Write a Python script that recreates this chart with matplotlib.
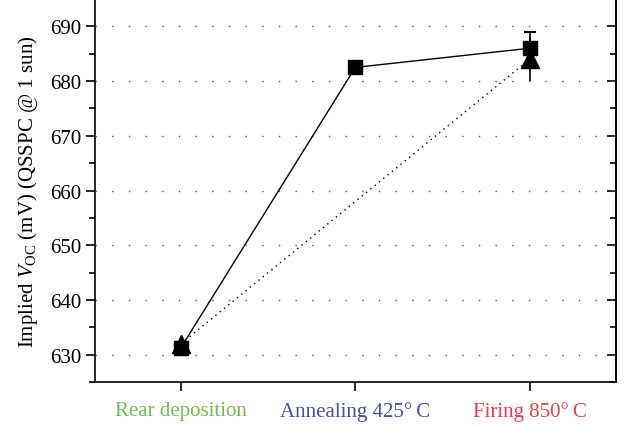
import matplotlib.pyplot as plt
import numpy as np

plt.rcParams['font.family'] = ['Liberation Serif', 'DejaVu Serif']
plt.rcParams['mathtext.fontset'] = 'custom'
plt.rcParams['mathtext.rm'] = 'Liberation Serif'
plt.rcParams['mathtext.it'] = 'Liberation Serif:italic'

stages = ['Rear deposition', 'Annealing 425°\u2009C', 'Firing 850°\u2009C']
stage_colors = ['#6cbf4a', '#3b55a5', '#ee3b46']

sq_x = [0, 1, 2]
sq_y = [631.3, 682.5, 686.0]
sq_err = [0.6, 1.0, 3.0]

tri_x = [0, 2]
tri_y = [632.0, 684.0]
tri_err = [0.8, 4.0]

fig = plt.figure(figsize=(6.28, 4.27), dpi=100)
ax = fig.add_axes([0.1513, 0.103, 0.829, 0.897])

ax.errorbar(sq_x, sq_y, yerr=sq_err, color='black', linestyle='-', linewidth=1,
            marker='s', markersize=10, capsize=4, elinewidth=1.2, capthick=1.5, zorder=3)
ax.errorbar(tri_x, tri_y, yerr=tri_err, color='black', linestyle=(0, (1, 3)),
            linewidth=1, marker='^', markersize=13.5, capsize=0, elinewidth=1.2, zorder=4)

ax.set_xlim(-0.493, 2.493)
ax.set_ylim(625, 695)
ax.set_yticks(np.arange(630, 691, 10))
ax.set_yticks(np.arange(625, 695, 5), minor=True)
ax.set_xticks(sq_x)
ax.set_xticklabels(stages, fontsize=15)
for lab, c in zip(ax.get_xticklabels(), stage_colors):
    lab.set_color(c)
ax.tick_params(axis='x', direction='out', length=6.5, width=1.2, pad=7)
ax.tick_params(axis='y', which='major', direction='out', length=6.5, width=1.2, labelsize=15)
ax.tick_params(axis='y', which='minor', direction='out', length=4, width=1.2)
ax.yaxis.grid(True, which='major', linestyle=(0, (1, 11)), color='#555555', linewidth=1)
for s in ax.spines.values():
    s.set_linewidth(1.2)

# right side ticks, pointing inward
sec = ax.secondary_yaxis('right')
sec.set_yticks(np.arange(630, 691, 10))
sec.set_yticks(np.arange(625, 695, 5), minor=True)
sec.tick_params(which='major', direction='in', length=6.5, width=1.2, labelright=False)
sec.tick_params(which='minor', direction='in', length=4, width=1.2, labelright=False)
sec.spines['right'].set_linewidth(1.2)

ax.set_ylabel('Implied $\\mathit{V}_{\\mathrm{OC}}$ (mV) (QSSPC @ 1 sun)', fontsize=15, labelpad=7)

fig.savefig('out.png', dpi=100)
